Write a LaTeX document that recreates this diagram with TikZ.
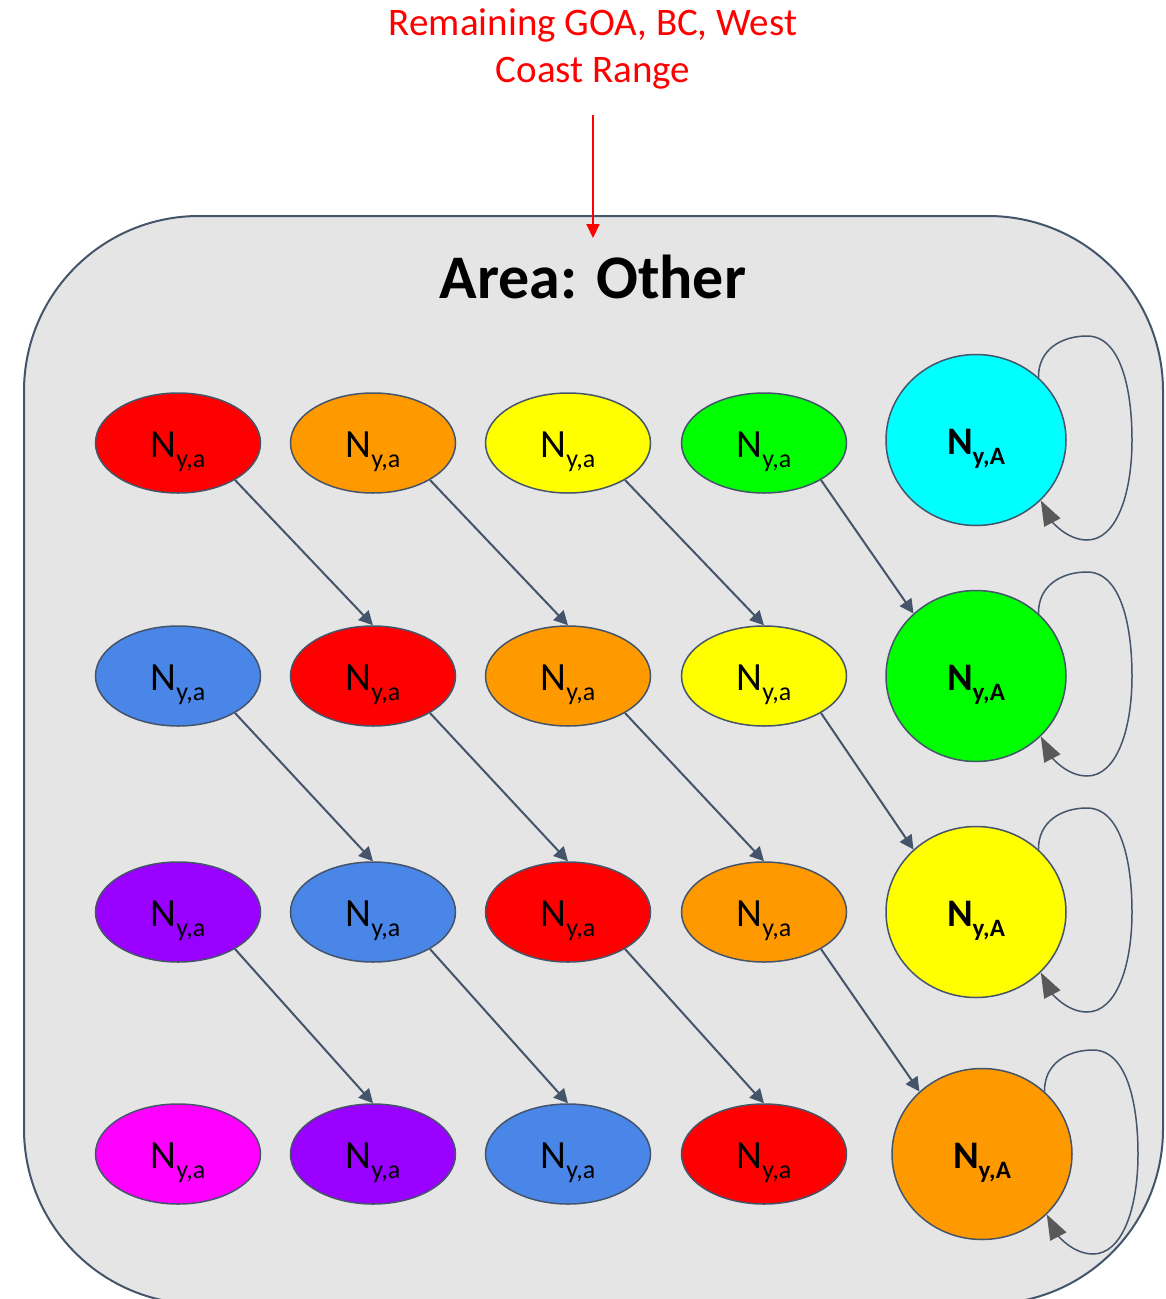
\documentclass[tikz,border=0pt]{standalone}
\usepackage{fontspec}
\setmainfont{Carlito}
\usetikzlibrary{arrows.meta,shapes.geometric}
\definecolor{edge}{HTML}{44546A}
\definecolor{boxfill}{HTML}{E5E5E5}
\definecolor{cred}{HTML}{FF0000}
\definecolor{corange}{HTML}{FF9900}
\definecolor{cyellow}{HTML}{FFFF00}
\definecolor{cgreen}{HTML}{00FF00}
\definecolor{ccyan}{HTML}{00FFFF}
\definecolor{cblue}{HTML}{4A86E8}
\definecolor{cpurple}{HTML}{9900FF}
\definecolor{cmagenta}{HTML}{FF00FF}
\definecolor{tipgray}{HTML}{595959}
\newcommand{\Nya}{N\raisebox{-10pt}{\fontsize{26}{26}\selectfont y,a}}
\newcommand{\NyA}{N\raisebox{-10pt}{\fontsize{25}{25}\selectfont\bfseries y,A}}
\tikzset{
  agebox/.style={ellipse, draw=edge, line width=1.5pt, minimum width=165pt, minimum height=100pt,
    inner sep=0pt, text height=33pt, text depth=5pt, font=\fontsize{40}{44}\selectfont},
  plusbox/.style={ellipse, draw=edge, line width=1.5pt, minimum width=180pt, minimum height=171pt,
    inner sep=0pt, text height=33pt, text depth=5pt, font=\fontsize{39}{43}\bfseries\selectfont},
  flow/.style={draw=edge, line width=2pt, -{Triangle[length=14pt,width=14pt]}},
  loopline/.style={draw=edge, line width=1.5pt, -{Triangle[length=25pt,width=18pt,color=tipgray]}},
  redarrow/.style={draw=cred, line width=2pt, -{Triangle[length=14pt,width=13pt]}},
  areabox/.style={draw=edge, fill=boxfill, line width=2pt, rounded corners=175pt}
}
\begin{document}
\begin{tikzpicture}[x=1pt,y=-1pt]
\useasboundingbox (0,0) rectangle (1166,1299);
\clip (0,0) rectangle (1166,1299);
\draw[areabox] (24,216) rectangle (1163,1304);
\node[anchor=base, align=center, inner sep=0pt, text=cred, font=\fontsize{39}{47}\selectfont] (src) at (593,82) {Remaining GOA, BC, West\\Coast Range};
\coordinate (rs) at (593,115);
\coordinate (re) at (593,238);
\draw[redarrow] (rs) -- (re);
\node[anchor=base, inner sep=0pt, font=\fontsize{62}{70}\bfseries\selectfont] (title) at (593,298) {Area: Other};
% row 1
\node[agebox, fill=cred] (e11) at (178,443) {\Nya};
\node[agebox, fill=corange] (e12) at (373,443) {\Nya};
\node[agebox, fill=cyellow] (e13) at (568,443) {\Nya};
\node[agebox, fill=cgreen] (e14) at (764,443) {\Nya};
\node[plusbox, fill=ccyan] (c1) at (976,440) {\NyA};
% row 2
\node[agebox, fill=cblue] (e21) at (178,676) {\Nya};
\node[agebox, fill=cred] (e22) at (373,676) {\Nya};
\node[agebox, fill=corange] (e23) at (568,676) {\Nya};
\node[agebox, fill=cyellow] (e24) at (764,676) {\Nya};
\node[plusbox, fill=cgreen] (c2) at (976,676) {\NyA};
% row 3
\node[agebox, fill=cpurple] (e31) at (178,912) {\Nya};
\node[agebox, fill=cblue] (e32) at (373,912) {\Nya};
\node[agebox, fill=cred] (e33) at (568,912) {\Nya};
\node[agebox, fill=corange] (e34) at (764,912) {\Nya};
\node[plusbox, fill=cyellow] (c3) at (976,912) {\NyA};
% row 4
\node[agebox, fill=cmagenta] (e41) at (178,1154) {\Nya};
\node[agebox, fill=cpurple] (e42) at (373,1154) {\Nya};
\node[agebox, fill=cblue] (e43) at (568,1154) {\Nya};
\node[agebox, fill=cred] (e44) at (764,1154) {\Nya};
\node[plusbox, fill=corange] (c4) at (982,1154) {\NyA};
% diagonal flows
\foreach \r/\s in {1/2,2/3,3/4}{
  \draw[flow] (e\r1.-33) -- (e\s2.north);
  \draw[flow] (e\r2.-33) -- (e\s3.north);
  \draw[flow] (e\r3.-33) -- (e\s4.north);
  \draw[flow] (e\r4.-33) -- (c\s.135);
}
% self loops
\foreach \n/\cx/\cy in {c1/976/440, c2/976/676, c3/976/912, c4/982/1154}{
  \begin{scope}[shift={(\cx,\cy)}]
    \draw[loopline] (\n.45) .. controls (62,-90) and (85,-104) .. (111,-104)
      .. controls (145,-104) and (156,-50) .. (156,0)
      .. controls (156,55) and (140,100) .. (111,100)
      .. controls (90,100) and (75,80) .. (\n.-43);
  \end{scope}
}
\end{tikzpicture}
\end{document}
